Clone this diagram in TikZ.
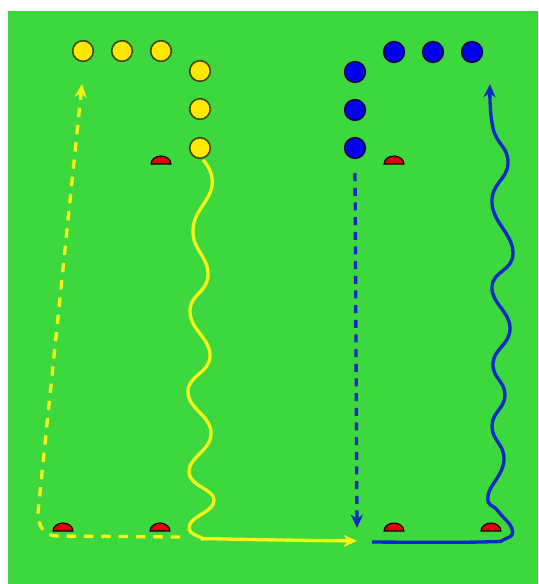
\documentclass[tikz,border=0pt]{standalone}
\usetikzlibrary{arrows.meta}
\definecolor{pitch}{RGB}{61,216,61}
\definecolor{yline}{RGB}{245,245,25}
\definecolor{yfill}{RGB}{255,232,0}
\definecolor{yedge}{RGB}{70,70,20}
\definecolor{bfill}{RGB}{0,0,235}
\definecolor{bedge}{RGB}{0,0,70}
\definecolor{bline}{RGB}{10,40,200}
\definecolor{conered}{RGB}{225,0,0}
\begin{document}
\begin{tikzpicture}[x=0.75pt,y=-0.75pt,
  yplayer/.style={circle,fill=yfill,draw=yedge,line width=1.2pt,minimum size=15.5pt,inner sep=0pt},
  bplayer/.style={circle,fill=bfill,draw=bedge,line width=1.2pt,minimum size=15.5pt,inner sep=0pt},
  yrun/.style={draw=yline,line width=2.5pt,-{Stealth[length=10pt,width=9pt]}},
  brun/.style={draw=bline,line width=2.5pt,-{Stealth[length=10pt,width=9pt]}},
  ypass/.style={draw=yline,line width=2.5pt,dash pattern=on 7pt off 6pt,-{Stealth[length=10pt,width=9pt]}},
  bpass/.style={draw=bline,line width=2.5pt,dash pattern=on 6pt off 5pt,-{Stealth[length=10pt,width=9pt]}},
  conestyle/.style={fill=conered,draw=black,line width=0.8pt}]
\useasboundingbox (0,0) rectangle (538,584);
\fill[white] (0,0) rectangle (538,584);
\fill[pitch] (8,11) rectangle (538,584);
% cones
\foreach \cx/\cy in {63/531,160/531,394/531,491/531,161/164,394/164}
  \filldraw[conestyle] (\cx-10,\cy) arc[start angle=180,end angle=360,x radius=10,y radius=8] -- cycle;
% yellow players
\node[yplayer] (y1) at (83,51) {};
\node[yplayer] (y2) at (122,51) {};
\node[yplayer] (y3) at (161,51) {};
\node[yplayer] (y4) at (200,71) {};
\node[yplayer] (y5) at (200,109) {};
\node[yplayer] (y6) at (200,148) {};
% blue players
\node[bplayer] (b1) at (394,52) {};
\node[bplayer] (b2) at (433,52) {};
\node[bplayer] (b3) at (472,52) {};
\node[bplayer] (b4) at (355,72) {};
\node[bplayer] (b5) at (355,110) {};
\node[bplayer] (b6) at (355,148) {};
\coordinate (ytop) at (82,84);
\coordinate (yend) at (357,541);
\coordinate (bdend) at (357,528);
\coordinate (btop) at (490,84);
% yellow dribble
\draw[yrun] plot[smooth,tension=0.8] coordinates {(203,160) (212,186) (193,230) (208,275) (190,312) (210,356) (188,392) (211,433) (189,472) (214,500) (190,524) (200,537) (225,539) (yend)};
% yellow dashed run
\draw[ypass] (180,537) -- (58,536) .. controls (45,536) and (38,528) .. (38,512) -- (ytop);
% blue dashed
\draw[bpass] (b6.south) ++(0,14) -- (bdend);
% blue dribble
\draw[brun] plot[smooth,tension=0.8] coordinates {(372,542) (480,542) (505,539) (512,529) (498,511) (488,496) (504,460) (492,426) (505,395) (493,363) (510,328) (492,287) (513,253) (492,203) (508,163) (493,128) (btop)};
\end{tikzpicture}
\end{document}
